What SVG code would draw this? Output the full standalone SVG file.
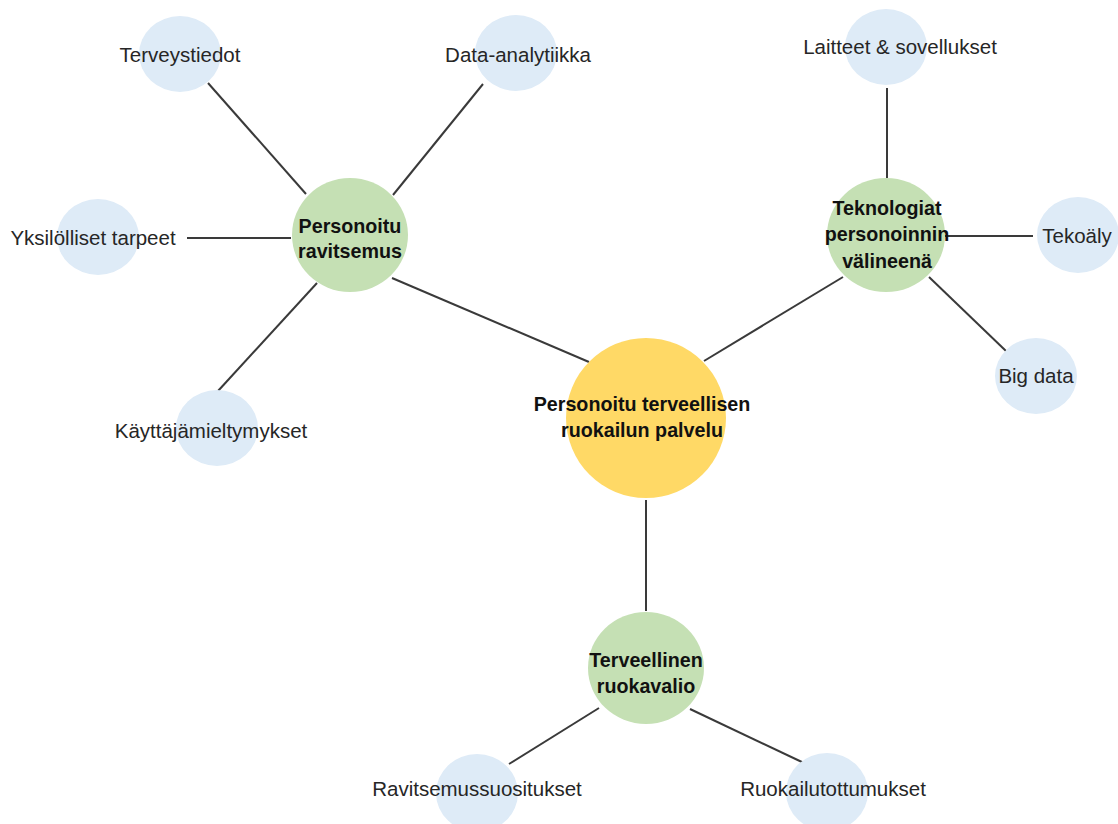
<svg xmlns="http://www.w3.org/2000/svg" width="1118" height="824" viewBox="0 0 1118 824">
<style>
.bg{fill:#ffffff}
.conn line{stroke:#3a3a3a;stroke-width:2;fill:none}
.leaf{fill:#deebf7}
.hub{fill:#c5e0b4}
.core{fill:#ffd966}
.t{font-family:"Liberation Sans",Arial,sans-serif;font-size:20.5px;fill:#262626;text-anchor:middle}
.b{font-family:"Liberation Sans",Arial,sans-serif;font-size:19.7px;font-weight:bold;fill:#111111;text-anchor:middle}
</style>
<rect class="bg" x="0" y="0" width="1118" height="824"/>
<g id="connectors" class="conn">
<line x1="208" y1="83" x2="306" y2="194"/>
<line x1="483" y1="84" x2="393" y2="195"/>
<line x1="187" y1="238" x2="291" y2="238"/>
<line x1="317" y1="283" x2="218" y2="391"/>
<line x1="392" y1="278" x2="589" y2="362"/>
<line x1="704" y1="361" x2="843" y2="277"/>
<line x1="887" y1="88" x2="887" y2="178"/>
<line x1="945" y1="236" x2="1033" y2="236"/>
<line x1="929" y1="277" x2="1006" y2="351"/>
<line x1="646" y1="500" x2="646" y2="611"/>
<line x1="599" y1="708" x2="509" y2="764"/>
<line x1="690" y1="709" x2="804" y2="763"/>
</g>
<g id="node-terveystiedot"><ellipse class="leaf" cx="180" cy="54" rx="41" ry="38"/><text class="t" x="180" y="62">Terveystiedot</text></g>
<g id="node-data-analytiikka"><ellipse class="leaf" cx="516" cy="53" rx="41" ry="38"/><text class="t" x="518" y="62">Data-analytiikka</text></g>
<g id="node-yksilolliset"><ellipse class="leaf" cx="98" cy="237" rx="41" ry="38"/><text class="t" x="93" y="245">Yksilölliset tarpeet</text></g>
<g id="node-kayttajamieltymykset"><ellipse class="leaf" cx="217" cy="428" rx="41" ry="38"/><text class="t" x="211" y="438">Käyttäjämieltymykset</text></g>
<g id="node-laitteet"><ellipse class="leaf" cx="886" cy="47" rx="41" ry="38"/><text class="t" x="900" y="54">Laitteet &amp; sovellukset</text></g>
<g id="node-tekoaly"><ellipse class="leaf" cx="1078" cy="235" rx="41" ry="38"/><text class="t" x="1077" y="243">Tekoäly</text></g>
<g id="node-bigdata"><ellipse class="leaf" cx="1036" cy="376" rx="41" ry="38"/><text class="t" x="1036" y="383">Big data</text></g>
<g id="node-ravitsemussuositukset"><ellipse class="leaf" cx="477" cy="793" rx="41" ry="39"/><text class="t" x="477" y="796">Ravitsemussuositukset</text></g>
<g id="node-ruokailutottumukset"><ellipse class="leaf" cx="827" cy="792" rx="41" ry="39"/><text class="t" x="833" y="796">Ruokailutottumukset</text></g>
<g id="node-personoitu-ravitsemus"><ellipse class="hub" cx="350" cy="235" rx="58" ry="57"/><text class="b" x="350" y="233">Personoitu</text><text class="b" x="350" y="258">ravitsemus</text></g>
<g id="node-teknologiat"><ellipse class="hub" cx="886" cy="235" rx="59" ry="57"/><text class="b" x="887" y="215">Teknologiat</text><text class="b" x="887" y="241">personoinnin</text><text class="b" x="887" y="268">välineenä</text></g>
<g id="node-terveellinen"><ellipse class="hub" cx="646" cy="668" rx="58" ry="56"/><text class="b" x="646" y="667">Terveellinen</text><text class="b" x="646" y="693">ruokavalio</text></g>
<g id="node-core"><circle class="core" cx="646" cy="418" r="80"/><text class="b" x="642" y="411">Personoitu terveellisen</text><text class="b" x="642" y="437">ruokailun palvelu</text></g>
</svg>
